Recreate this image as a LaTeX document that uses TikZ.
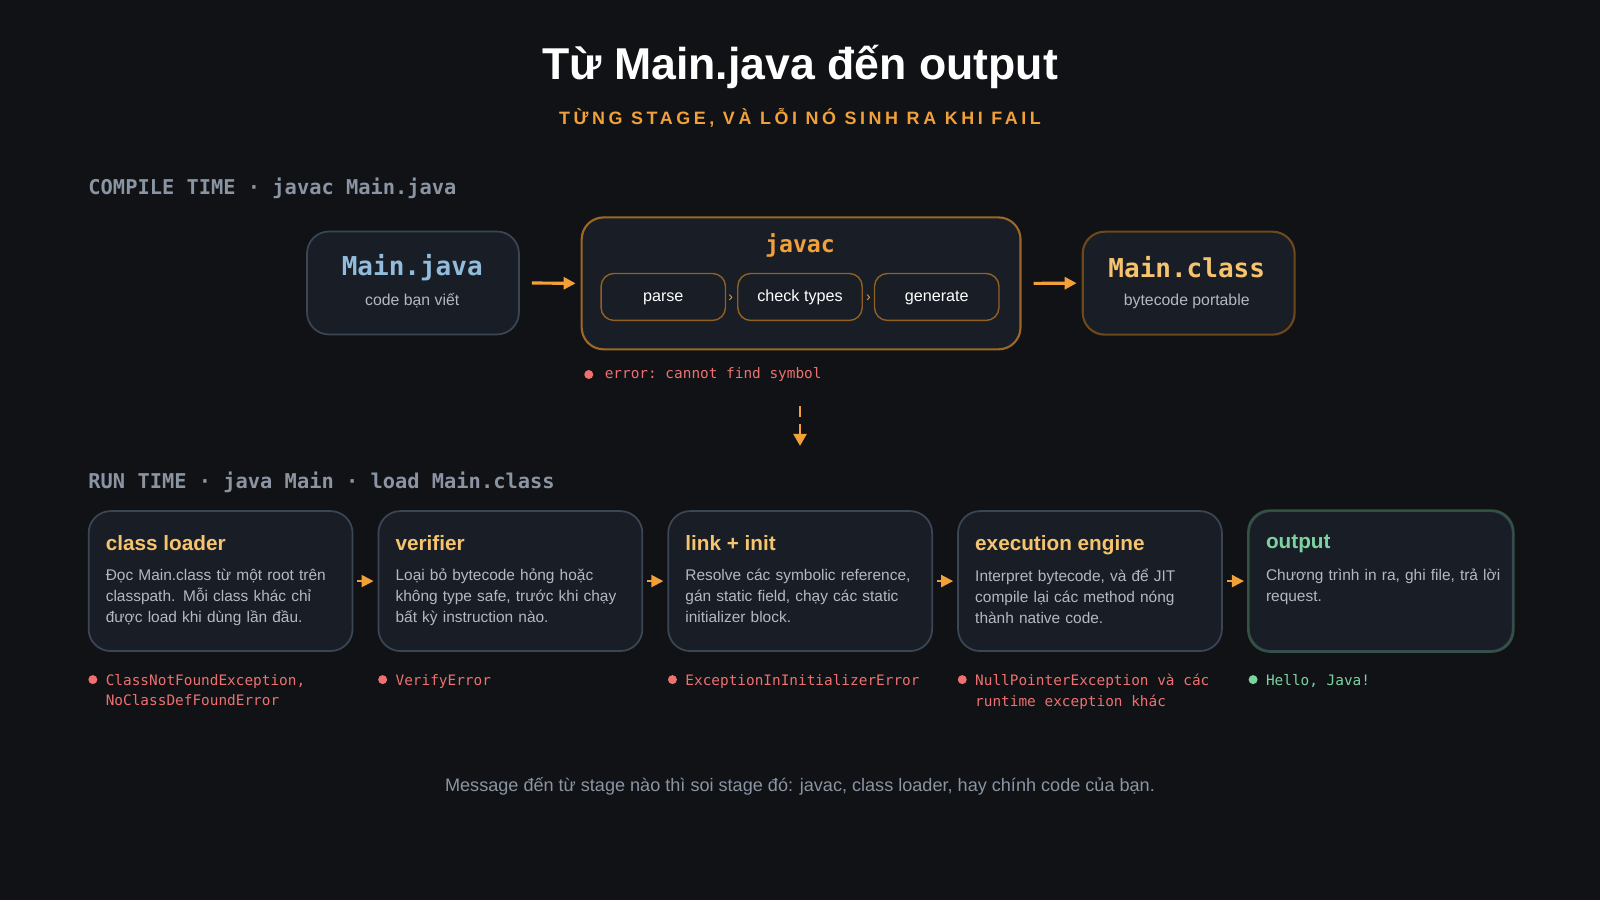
\documentclass[tikz,border=0pt]{standalone}
\usepackage{fontspec}
\setmainfont{Liberation Sans}
\setmonofont{DejaVu Sans Mono}
\usetikzlibrary{positioning,arrows.meta}
\definecolor{bgc}{HTML}{101215}
\definecolor{boxc}{HTML}{191E26}
\definecolor{edgec}{HTML}{3A4654}
\definecolor{orng}{HTML}{F2A03A}
\definecolor{gold}{HTML}{F6C46E}
\definecolor{blu}{HTML}{92BCDC}
\definecolor{redc}{HTML}{EE7070}
\definecolor{grn}{HTML}{7DD3A0}
\definecolor{gry}{HTML}{B4B9C1}
\definecolor{lbl}{HTML}{8A94A3}
\tikzset{
  box/.style={draw=edgec, fill=boxc, rounded corners=2.2mm, line width=0.5pt, anchor=north west, inner sep=0pt},
  phase/.style={draw=orng!60!black, fill=boxc, rounded corners=1.3mm, minimum width=1.245cm, minimum height=0.47cm, text height=1.2mm, text depth=0.3mm, text=white, font=\fontsize{4.6}{5}\selectfont},
  head/.style={anchor=north west, inner sep=0pt, font=\bfseries\fontsize{5.9}{7}\selectfont, text=gold},
  body/.style={anchor=north west, inner sep=0pt, align=left, text width=2.35cm, font=\fontsize{4.4}{6}\selectfont, text=gry},
  err/.style={anchor=north west, inner sep=0pt, align=left, font=\ttfamily\fontsize{4.1}{5.8}\selectfont, text=redc},
  dot/.style={circle, fill=redc, inner sep=0pt, minimum size=0.09cm},
  flow/.style={-{Triangle[length=1.2mm,width=1.2mm]}, orng, line width=0.9pt},
  sect/.style={anchor=west, inner sep=0pt, font=\ttfamily\bfseries\fontsize{5.8}{6}\selectfont, text=lbl}
}
\begin{document}
\begin{tikzpicture}[x=0.010204cm, y=-0.010204cm]
  \fill[bgc] (0,0) rectangle (1568,882);
  \useasboundingbox (0,0) rectangle (1568,882);

  % title
  \node[font=\bfseries\fontsize{12.7}{14}\selectfont, text=white] (title) at (784,66) {Từ Main.java đến output};
  \node[font=\bfseries\fontsize{5.1}{6}\selectfont, text=orng] (sub) at (784,115) {\addfontfeature{LetterSpace=20}TỪNG STAGE, VÀ LỖI NÓ SINH RA KHI FAIL};

  % compile time
  \node[sect] (ct) at (86,185) {COMPILE TIME · javac Main.java};
  \node[box, minimum width=2.12cm, minimum height=1.03cm] (java) at (300,226) {};
  \node[font=\ttfamily\bfseries\fontsize{7.4}{8}\selectfont, text=blu] at (404,262) {Main.java};
  \node[font=\fontsize{4.5}{5}\selectfont, text=gry] at (404,295) {code bạn viết};

  \node[box, draw=orng!65!black, line width=0.6pt, minimum width=4.39cm, minimum height=1.32cm] (javac) at (569,212) {};
  \node[font=\ttfamily\bfseries\fontsize{6.6}{7}\selectfont, text=orng] at (784,241) {javac};
  \node[phase] (parse) at (650,291) {parse};
  \node[phase] (check) at (784,291) {check types};
  \node[phase] (gen) at (918,291) {generate};
  \node[text=orng, font=\fontsize{4}{4}\selectfont] at (716,292) {›};
  \node[text=orng, font=\fontsize{4}{4}\selectfont] at (851,292) {›};

  \node[box, draw=orng!45!black, line width=0.6pt, minimum width=2.12cm, minimum height=1.03cm] (cls) at (1060,226) {};
  \node[font=\ttfamily\bfseries\fontsize{7.4}{8}\selectfont, text=gold] at (1163,262) {Main.class};
  \node[font=\fontsize{4.5}{5}\selectfont, text=gry] at (1163,295) {bytecode portable};

  \draw[flow] ([xshift=0.12cm]java.east) -- ([xshift=-0.05cm]javac.west);
  \draw[flow] ([xshift=0.12cm]javac.east) -- ([xshift=-0.05cm]cls.west);

  \node[dot] (d0) at (577,367) {};
  \node[err, anchor=west] (e0) at (592,367) {error: cannot find symbol};
  \coordinate (v1) at (784,398);
  \coordinate (v2) at (784,437);
  \draw[orng, line width=0.7pt, dash pattern=on 3pt off 2pt, -{Triangle[length=1.2mm,width=1.3mm]}] (v1) -- (v2);

  % run time
  \node[sect] (rt) at (86,473) {RUN TIME · java Main · load Main.class};
  \foreach \x/\n in {86/s1, 370/s2, 654/s3, 938/s4, 1223/s5}
    \node[box, minimum width=2.64cm, minimum height=1.40cm] (\n) at (\x,500) {};
  \draw[draw=grn!40!black, rounded corners=2.2mm, line width=0.5pt] (s5.north west) rectangle (s5.south east);

  \node[head] at (103,524) {class loader};
  \node[body] at (103,557) {Đọc Main.class từ một root trên classpath. Mỗi class khác chỉ được load khi dùng lần đầu.};
  \node[head] at (387,524) {verifier};
  \node[body] at (387,557) {Loại bỏ bytecode hỏng hoặc không type safe, trước khi chạy bất kỳ instruction nào.};
  \node[head] at (671,524) {link + init};
  \node[body] at (671,557) {Resolve các symbolic reference, gán static field, chạy các static initializer block.};
  \node[head] at (955,524) {execution engine};
  \node[body] at (955,557) {Interpret bytecode, và để JIT compile lại các method nóng thành native code.};
  \node[head, text=grn] at (1240,524) {output};
  \node[body] at (1240,557) {Chương trình in ra, ghi file, trả lời request.};

  \foreach \a/\b in {s1/s2, s2/s3, s3/s4, s4/s5}
    \draw[flow, line width=0.6pt] ([xshift=0.04cm]\a.east) -- ([xshift=-0.04cm]\b.west);

  % errors
  \foreach \x in {91,375,659,943}
    \node[dot] at (\x,666) {};
  \node[dot, fill=grn] at (1228,666) {};
  \node[err] at (103,660) {ClassNotFoundException,\\NoClassDefFoundError};
  \node[err] at (387,660) {VerifyError};
  \node[err] at (671,660) {ExceptionInInitializerError};
  \node[err] at (955,660) {NullPointerException và các\\runtime exception khác};
  \node[err, text=grn] at (1240,660) {Hello, Java!};

  \node[font=\fontsize{5.15}{6}\selectfont, text=lbl] (foot) at (784,771) {Message đến từ stage nào thì soi stage đó: javac, class loader, hay chính code của bạn.};
\end{tikzpicture}
\end{document}
